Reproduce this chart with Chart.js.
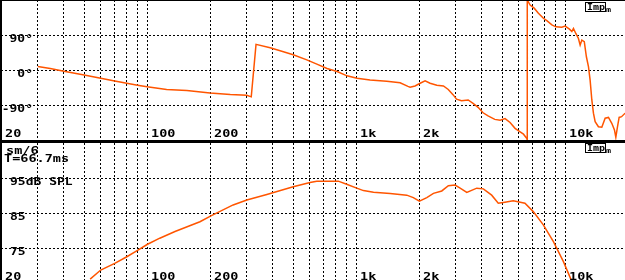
<!DOCTYPE html>
<html lang="en">
<head>
<meta charset="utf-8">
<title>Phase / SPL</title>
<script src="https://cdn.jsdelivr.net/npm/chart.js@4.4.0/dist/chart.umd.min.js"></script>
<style>
  html, body { margin: 0; padding: 0; background: #fff; overflow: hidden; }
  #wrap { position: relative; width: 625px; height: 280px; overflow: hidden; }
  canvas { position: absolute; left: 0; }
  #phase { top: 0; }
  #spl { top: 143px; }
  .bar { position: absolute; background: #000; }
</style>
</head>
<body>
<div id="wrap">
  <canvas id="phase" width="625" height="140"></canvas>
  <canvas id="spl" width="625" height="140"></canvas>
  <div class="bar" style="left:0;top:0;width:625px;height:1px"></div>
  <div class="bar" style="left:0;top:140px;width:625px;height:3px"></div>
  <div class="bar" style="left:0;top:0;width:2px;height:280px"></div>
</div>

<script type="text/javascript">

    // frequency grid and labels
    const xGrid = [30, 40, 50, 60, 70, 80, 90, 100, 200, 300, 400, 500, 600, 700, 800, 900,
        1000, 2000, 3000, 4000, 5000, 6000, 7000, 8000, 9000, 10000];
    const xLabelValues = [20, 100, 200, 1000, 2000, 10000];
    const xLabelTexts = ["20", "100", "200", "1k", "2k", "10k"];

    // phase panel
    const phaseTicks = [-90, 0, 90];
    const phaseTickLabels = ["-90°", "0°", "90°"];
    const phaseFreq = [30, 34.4, 40, 50, 60, 70, 80, 90, 100, 124, 155, 200, 250, 300, 315,
        332, 388, 449, 500, 581, 649, 726, 811, 905, 1010, 1166, 1401, 1624, 1770, 1812, 1914,
        2025, 2138, 2259, 2433, 2616, 2760, 2915, 3023, 3193, 3436, 3628, 3834, 4050, 4278,
        4608, 4887, 5160, 5452, 5760, 6093, 6320, 6560, 6580, 6590, 6800, 7110, 7450, 7870,
        8175, 8640, 9030, 9640, 10000, 10490, 10770, 10960, 11250, 11580, 11800, 12020, 12350,
        12640, 12930, 13170, 13420, 13660, 13920, 14430, 14980, 15540, 16120, 16720, 17220,
        17480, 17800, 18130, 18620, 19370];
    const phaseDeg = [9, 4, -3, -13, -21, -28, -34, -39, -43, -50, -53, -59, -63, -65, -69,
        66, 57, 47, 39, 26, 15, 4, -4, -15, -21, -26, -29, -33, -42, -44, -41,
        -34, -28, -34, -39, -41, -50, -64, -75, -79, -77, -86, -96, -110, -118,
        -127, -129, -125, -135, -150, -159, -165, -176, -180, 180, 167, 159, 146, 133,
        127, 116, 111, 110, 113, 105, 99, 107, 94, 81, 64, 77, 73,
        34, 9, -26, -77, -111, -133, -146, -147, -124, -122, -137, -154,
        -173, -146, -122, -120, -111];

    // SPL panel
    const splTicks = [75, 85, 95];
    const splTickLabels = ["75", "85", "95dB SPL"];
    const splFreq = [53.4, 60, 70, 80, 90, 100, 115, 136, 179, 202, 258, 300, 374, 500, 602,
        648, 822, 901, 1007, 1084, 1211, 1455, 1747, 1878, 2008, 2179, 2344, 2569, 2763, 2975,
        3145, 3385, 3778, 4062, 4452, 4788, 5150, 5645, 6423, 7040, 7864, 8790, 9814, 10650, 11000];
    const splDb = [66.1, 68.7, 70.6, 72.5, 74.3, 76, 77.8, 79.7, 82.5, 84.2, 87.3, 88.7, 90.3, 92.5, 93.7,
        94.1, 94.1, 93.2, 92.1, 91.4, 90.9, 90.6, 90.1, 89.4, 88.4, 89.4, 90.6, 91.3, 92.8, 93,
        92.1, 90.9, 92.1, 91.9, 90.1, 87.8, 88.1, 88.5, 87.8, 85.4, 81.6, 76.8, 71.1, 66.1, 64];

    const curveColor = "#ff5500";

    function drawText(ctx, text, x, y, align, size, sx) {
        ctx.save();
        ctx.font = "bold " + size + "px 'DejaVu Sans Mono'";
        ctx.fillStyle = "#000";
        ctx.textBaseline = "alphabetic";
        const w = ctx.measureText(text).width * sx;
        if (align === "right") x -= w;
        ctx.translate(x, y);
        ctx.scale(sx, 1);
        ctx.fillText(text, 0, 0);
        ctx.restore();
    }

    function drawImp(ctx, top) {
        ctx.save();
        ctx.strokeStyle = "#000";
        ctx.lineWidth = 1;
        ctx.strokeRect(585.5, top + 0.5, 20, 9);
        ctx.restore();
        drawText(ctx, "Imp", 587, top + 8, "left", 8, 1.25);
        drawText(ctx, "m", 606, top + 10, "left", 7, 1.2);
    }

    function labelPlugin(yValues, yTexts, yAlign, yX, extra) {
        return {
            id: "labels",
            afterDraw(chart) {
                const ctx = chart.ctx;
                const xs = chart.scales.x;
                const ys = chart.scales.y;
                for (let i = 0; i < xLabelValues.length; i++) {
                    const px = xs.getPixelForValue(xLabelValues[i]);
                    drawText(ctx, xLabelTexts[i], Math.round(px) + 4, chart.height - 3, "left", 10, 1.35);
                }
                for (let i = 0; i < yValues.length; i++) {
                    const py = ys.getPixelForValue(yValues[i]);
                    drawText(ctx, yTexts[i], yX, Math.round(py) + 7, yAlign, 10, 1.3);
                }
                if (extra) extra(ctx);
            }
        };
    }

    function makeChart(id, freq, values, yMin, yMax, yTicks, plugin) {
        const points = freq.map((f, i) => ({x: f, y: values[i]}));
        return new Chart(id, {
            type: "line",
            data: {
                datasets: [{
                    data: points,
                    borderColor: curveColor,
                    borderWidth: 1.5,
                    pointRadius: 0,
                    tension: 0,
                    fill: false
                }]
            },
            options: {
                responsive: false,
                animation: false,
                events: [],
                layout: {padding: {left: 1, right: 0, top: 0, bottom: 0}},
                plugins: {legend: {display: false}, tooltip: {enabled: false}},
                scales: {
                    x: {
                        type: "logarithmic",
                        min: 20,
                        max: 19340,
                        afterBuildTicks: scale => { scale.ticks = xGrid.map(v => ({value: v})); },
                        ticks: {display: false},
                        grid: {color: "#000", lineWidth: 1, drawTicks: false},
                        border: {display: false, dash: [2, 2]}
                    },
                    y: {
                        min: yMin,
                        max: yMax,
                        afterBuildTicks: scale => { scale.ticks = yTicks.map(v => ({value: v})); },
                        ticks: {display: false},
                        grid: {color: "#000", lineWidth: 1, drawTicks: false},
                        border: {display: false, dash: [2, 2]}
                    }
                }
            },
            plugins: [plugin]
        });
    }

    makeChart("phase", phaseFreq, phaseDeg, -180, 180, phaseTicks,
        labelPlugin(phaseTicks, phaseTickLabels, "right", 33, ctx => drawImp(ctx, 2)));

    makeChart("spl", splFreq, splDb, 65, 105, splTicks,
        labelPlugin(splTicks, splTickLabels, "left", 10, ctx => {
            drawImp(ctx, 0);
            drawText(ctx, "sm/6", 6, 11, "left", 10, 1.35);
            drawText(ctx, "T=66.7ms", 4, 19, "left", 10, 1.35);
        }));

</script>
</body>
</html>
